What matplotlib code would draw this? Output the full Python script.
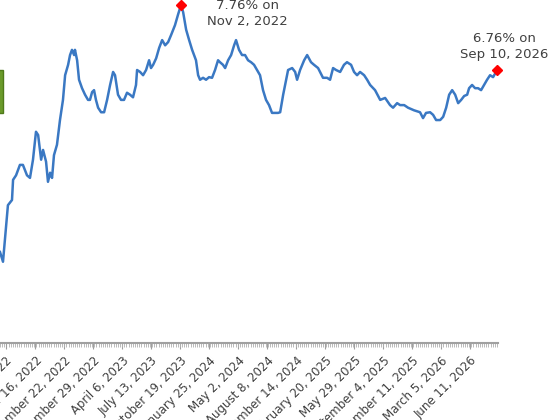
import matplotlib
matplotlib.use("Agg")
import matplotlib.pyplot as plt
import numpy as np
from matplotlib.patches import Rectangle

weeks = [0.0,1.4,2.3,3.7,5.6,6.1,7.5,9.3,10.7,12.6,14.0,15.4,16.8,17.8,19.2,20.1,21.5,22.4,23.4,24.3,25.2,26.6,28.0,29.4,30.4,31.8,32.7,33.6,34.6,35.0,36.0,36.9,38.3,39.7,41.1,42.0,43.0,43.9,44.8,45.8,47.2,48.6,50.0,51.4,52.8,53.7,55.1,56.5,57.9,59.3,60.7,62.1,63.5,64.0,65.4,66.8,68.2,69.6,70.5,71.5,72.9,74.3,75.7,77.1,78.5,79.9,81.7,83.1,84.5,
         85.5,86.9,88.3,89.7,91.5,92.5,93.4,94.8,96.2,97.6,99.0,100.4,101.8,102.7,104.1,105.1,106.5,107.9,109.3,110.2,111.6,113.0,114.4,115.8,117.2,118.6,120.0,121.4,122.8,124.2,125.6,127.0,128.4,129.8,130.8,132.2,133.6,134.5,136.4,137.8,138.7,140.1,142.0,143.4,145.2,146.6,148.5,149.4,150.8,152.7,154.1,155.5,156.9,158.8,160.6,162.0,163.9,165.3,166.7,168.1,170.0,171.4,172.8,175.1,177.5,179.8,182.1,183.5,185.4,186.8,188.7,190.5,193.3,196.1,197.5,198.9,200.8,202.2,203.6,205.5,206.9,208.3,209.7,211.1,212.5,213.9,215.3,216.7,218.1,219.0,220.4,221.8,223.2,224.6,226.0,227.4,228.8,230.2,231.6,232.1]
rates = [3.96,3.81,4.15,4.68,4.76,5.07,5.14,5.30,5.30,5.14,5.10,5.38,5.81,5.76,5.38,5.53,5.35,5.04,5.18,5.10,5.45,5.61,5.99,6.30,6.68,6.84,6.99,7.07,6.99,7.07,6.91,6.61,6.48,6.38,6.30,6.30,6.42,6.45,6.30,6.18,6.11,6.11,6.30,6.53,6.73,6.68,6.38,6.30,6.30,6.41,6.38,6.34,6.53,6.76,6.73,6.68,6.76,6.91,6.79,6.84,6.94,7.10,7.22,7.14,7.19,7.30,7.45,7.61,7.76,
         7.65,7.38,7.22,7.07,6.91,6.68,6.61,6.64,6.61,6.65,6.64,6.76,6.91,6.88,6.84,6.79,6.91,6.99,7.14,7.22,7.07,6.99,6.99,6.91,6.88,6.84,6.76,6.68,6.45,6.30,6.22,6.10,6.10,6.10,6.11,6.38,6.61,6.76,6.79,6.73,6.61,6.76,6.91,6.99,6.88,6.84,6.79,6.73,6.64,6.64,6.61,6.79,6.76,6.73,6.84,6.88,6.84,6.73,6.68,6.73,6.68,6.61,6.53,6.45,6.30,6.33,6.22,6.18,6.25,6.22,6.22,6.18,6.14,6.11,6.02,6.10,6.11,6.07,5.99,5.99,6.04,6.18,6.38,6.45,6.38,6.25,6.30,6.36,6.38,6.48,6.53,6.48,6.48,6.45,6.53,6.61,6.68,6.65,6.73,6.76]
n = min(len(weeks), len(rates))
weeks, rates = weeks[:n], rates[:n]

tick_labels = ["June 2, 2022", "September 16, 2022", "December 22, 2022", "December 29, 2022",
               "April 6, 2023", "July 13, 2023", "October 19, 2023", "January 25, 2024",
               "May 2, 2024", "August 8, 2024", "November 14, 2024", "February 20, 2025",
               "May 29, 2025", "September 4, 2025", "December 11, 2025", "March 5, 2026",
               "June 11, 2026"]
peak_label = "7.76% on\nNov 2, 2022"
last_label = "6.76% on\nSep 10, 2026"

fig = plt.figure(figsize=(5.6, 4.2), dpi=100)
ax = fig.add_axes([0.0, 77/420, 498/560, 353.6/420])
ax.plot(weeks, rates, color="#3a78c3", lw=1.8)
ipk = int(np.argmax(rates))
ax.plot([weeks[ipk]], [rates[ipk]], marker="D", color="red", ms=5, clip_on=False)
ax.plot([weeks[-1]], [rates[-1]], marker="D", color="red", ms=5, clip_on=False)
ax.annotate(peak_label, (weeks[ipk], rates[ipk]), xytext=(48, -6), textcoords="offset points",
            ha="center", va="center", fontsize=9.5, color="#404040", linespacing=1.3)
ax.annotate(last_label, (weeks[-1], rates[-1]), xytext=(5, 17), textcoords="offset points",
            ha="center", va="center", fontsize=9.5, color="#404040", linespacing=1.3)

ax.set_xlim(0, 232.5)
ax.set_ylim(2.56, 8.0)
for s in ["top", "right", "left"]:
    ax.spines[s].set_visible(False)
ax.spines["bottom"].set_color("#a0a0a0")
ax.spines["bottom"].set_linewidth(1.5)
ax.set_yticks([])
ax.set_xticks(np.linspace(3, 219.6, len(tick_labels)))
ax.set_xticklabels(tick_labels, rotation=45, ha="right", rotation_mode="anchor",
                   fontsize=8.5, color="#404040")
ax.set_xticks(np.arange(0, 233, 1), minor=True)
ax.tick_params(axis="x", which="major", length=4, color="#a0a0a0", pad=4)
ax.tick_params(axis="x", which="minor", length=3, color="#b0b0b0", width=0.6)

fig.patches.append(Rectangle((-3/560, (420-113)/420), 6/560, 43/420, transform=fig.transFigure,
                             facecolor="#6a9a2a", edgecolor="#4f7a1a", figure=fig))
fig.savefig("out.png", dpi=100)
